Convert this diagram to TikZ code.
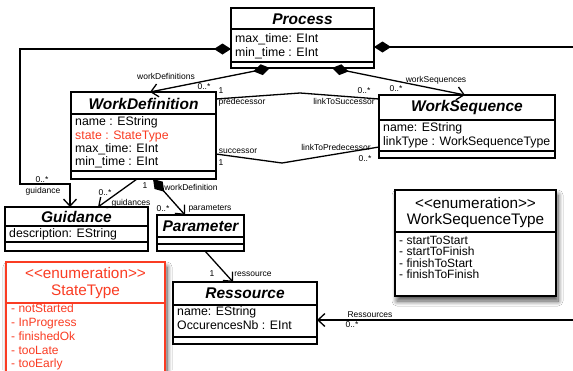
\documentclass[tikz,border=0pt]{standalone}
\usepackage{fontspec}
\setmainfont{Liberation Sans}
\usetikzlibrary{arrows.meta,calc,shadows.blur}
\definecolor{umlred}{RGB}{250,60,35}
\tikzset{
  box/.style={draw=black, line width=1.4pt, fill=white, anchor=north west, inner sep=0pt, outer sep=0pt},
  sepline/.style={line width=1.2pt},
  ttl/.style={font=\fontsize{15.5}{18}\selectfont\bfseries\itshape, inner sep=0pt},
  attr/.style={font=\fontsize{12.3}{14}\selectfont, anchor=west, inner sep=0pt, text height=8.8pt, text depth=2.6pt},
  enumhead/.style={font=\fontsize{15.3}{18}\selectfont, inner sep=0pt},
  enumitem/.style={font=\fontsize{12}{14}\selectfont, anchor=west, inner sep=0pt, text height=8.6pt, text depth=2.5pt},
  lbl/.style={font=\fontsize{8.5}{10}\selectfont, inner sep=0pt},
  conn/.style={line width=1.3pt},
  comp/.style={conn, {Diamond[length=17pt,width=11pt]}-{Straight Barb[length=7pt,width=13pt]}},
  compend/.style={conn, {Diamond[length=17pt,width=11pt]}-},
  assoc/.style={conn, -{Straight Barb[length=7pt,width=13pt]}},
  shad/.style={blur shadow={shadow xshift=2pt, shadow yshift=-5pt, shadow blur steps=10, shadow blur radius=5pt, shadow opacity=70}}
}
\begin{document}
\begin{tikzpicture}[x=1pt,y=-1pt]
\useasboundingbox (0,0) rectangle (573,370);
\fill[white] (0,0) rectangle (573,370);
\clip (0,0) rectangle (573,370);

% ---------- Process
\node[box, minimum width=143pt, minimum height=60pt] (proc) at (231,8) {};
\draw[sepline] ($(proc.north west)+(0,21)$) -- ($(proc.north east)+(0,21)$);
\draw[sepline] ($(proc.north west)+(0,54)$) -- ($(proc.north east)+(0,54)$);
\node[ttl] (procT) at ($(proc.north)+(0,11)$) {Process};
\node[attr] (procA1) at ($(proc.north west)+(4,31)$) {max\_time: EInt};
\node[attr] (procA2) at ($(proc.north west)+(4,45)$) {min\_time : EInt};

% ---------- WorkDefinition
\node[box, minimum width=145pt, minimum height=87pt] (wd) at (71,92) {};
\draw[sepline] ($(wd.north west)+(0,22)$) -- ($(wd.north east)+(0,22)$);
\draw[sepline] ($(wd.north west)+(0,79)$) -- ($(wd.north east)+(0,79)$);
\node[ttl] (wdT) at ($(wd.north)+(0,11.5)$) {WorkDefinition};
\node[attr] (wdA1) at ($(wd.north west)+(4,30)$) {name : EString};
\node[attr, text=umlred] (wdA2) at ($(wd.north west)+(4,44)$) {state : StateType};
\node[attr] (wdA3) at ($(wd.north west)+(4,57.5)$) {max\_time: EInt};
\node[attr] (wdA4) at ($(wd.north west)+(4,70.5)$) {min\_time : EInt};

% ---------- WorkSequence
\node[box, minimum width=176pt, minimum height=63pt] (ws) at (379,95) {};
\draw[sepline] ($(ws.north west)+(0,25)$) -- ($(ws.north east)+(0,25)$);
\draw[sepline] ($(ws.north west)+(0,56)$) -- ($(ws.north east)+(0,56)$);
\node[ttl] (wsT) at ($(ws.north)+(0,12.5)$) {WorkSequence};
\node[attr] (wsA1) at ($(ws.north west)+(4,33)$) {name: EString};
\node[attr] (wsA2) at ($(ws.north west)+(4,47)$) {linkType : WorkSequenceType};

% ---------- Guidance
\node[box, minimum width=143pt, minimum height=44pt] (guid) at (5,207) {};
\draw[sepline] ($(guid.north west)+(0,19)$) -- ($(guid.north east)+(0,19)$);
\draw[sepline] ($(guid.north west)+(0,35)$) -- ($(guid.north east)+(0,35)$);
\node[ttl] (guidT) at ($(guid.north)+(0,9.5)$) {Guidance};
\node[attr] (guidA1) at ($(guid.north west)+(4,27)$) {description: EString};

% ---------- Parameter
\node[box, minimum width=87pt, minimum height=36pt] (param) at (157,215) {};
\draw[sepline] ($(param.north west)+(0,22)$) -- ($(param.north east)+(0,22)$);
\draw[sepline] ($(param.north west)+(0,29)$) -- ($(param.north east)+(0,29)$);
\node[ttl] (paramT) at ($(param.north)+(0,11)$) {Parameter};

% ---------- Ressource
\node[box, minimum width=144pt, minimum height=62pt] (res) at (173,282) {};
\draw[sepline] ($(res.north west)+(0,23)$) -- ($(res.north east)+(0,23)$);
\draw[sepline] ($(res.north west)+(0,55)$) -- ($(res.north east)+(0,55)$);
\node[ttl] (resT) at ($(res.north)+(0,11.5)$) {Ressource};
\node[attr] (resA1) at ($(res.north west)+(4,30)$) {name: EString};
\node[attr] (resA2) at ($(res.north west)+(4,44)$) {OccurencesNb : EInt};

% ---------- WorkSequenceType
\node[box, shad, minimum width=161pt, minimum height=106pt] (wst) at (395,190) {};
\draw[sepline] ($(wst.north west)+(0,42)$) -- ($(wst.north east)+(0,42)$);
\node[enumhead] (wstH1) at ($(wst.north)+(0,13)$) {<\kern0pt<enumeration>\kern0pt>};
\node[enumhead] (wstH2) at ($(wst.north)+(0,30.5)$) {WorkSequenceType};
\node[enumitem] (wstI1) at ($(wst.north west)+(4,51)$) {- startToStart};
\node[enumitem] (wstI2) at ($(wst.north west)+(4,62.5)$) {- startToFinish};
\node[enumitem] (wstI3) at ($(wst.north west)+(4,74)$) {- finishToStart};
\node[enumitem] (wstI4) at ($(wst.north west)+(4,85.5)$) {- finishToFinish};

% ---------- StateType
\node[box, draw=umlred, shad, minimum width=159pt, minimum height=130pt] (st) at (6,262) {};
\draw[sepline, umlred] ($(st.north west)+(0,41)$) -- ($(st.north east)+(0,41)$);
\node[enumhead, text=umlred] (stH1) at ($(st.north)+(0,11)$) {<\kern0pt<enumeration>\kern0pt>};
\node[enumhead, text=umlred] (stH2) at ($(st.north)+(0,30)$) {StateType};
\node[enumitem, text=umlred] (stI1) at ($(st.north west)+(5,47)$) {- notStarted};
\node[enumitem, text=umlred] (stI2) at ($(st.north west)+(5,61)$) {- InProgress};
\node[enumitem, text=umlred] (stI3) at ($(st.north west)+(5,75)$) {- finishedOk};
\node[enumitem, text=umlred] (stI4) at ($(st.north west)+(5,89)$) {- tooLate};
\node[enumitem, text=umlred] (stI5) at ($(st.north west)+(5,102)$) {- tooEarly};

% ---------- free ends at the picture edge
\coordinate (edgeA) at (573,47);
\coordinate (edgeB) at (573,320);

% ---------- connectors
\draw[comp] ($(proc.north west)+(0,41)$) -- ++(-211,0) -- ++(0,135) -- ++(50,0) -- ($(guid.north west)+(65,0)$);
\draw[compend] ($(proc.north east)+(0,39)$) -- (edgeA);
\draw[comp] ($(proc.south west)+(39,0)$) -- ($(wd.north west)+(79,0)$);
\draw[comp] ($(proc.south west)+(101,0)$) -- ($(ws.north west)+(86,0)$);
\draw[conn] ($(wd.north east)+(0,7)$) -- (300,93) -- ($(ws.north west)+(0,4)$);
\draw[conn] ($(wd.north east)+(0,62)$) -- (282,163) -- ($(ws.north west)+(0,52)$);
\draw[comp] ($(wd.south west)+(82,0)$) -- ($(param.north west)+(28,0)$);
\draw[assoc] ($(wd.south west)+(66,0)$) -- ($(guid.north west)+(93,0)$);
\draw[assoc] ($(param.south west)+(48,0)$) -- ($(res.north west)+(60,0)$);
\draw[assoc] (edgeB) -- ($(res.north east)+(0,38)$);

% ---------- labels
\node[lbl] (l1) at (42,180) {0..*};
\node[lbl] (l2) at (43,191) {guidance};
\node[lbl] (l3) at (166,76) {workDefinitions};
\node[lbl] (l4) at (204,87) {0..*};
\node[lbl] (l5) at (436,80) {workSequences};
\node[lbl] (l6) at (396,89) {0..*};
\node[lbl] (l7) at (221,91) {1};
\node[lbl] (l8) at (242,102) {predecessor};
\node[lbl] (l9) at (344,101) {linkToSuccessor};
\node[lbl] (l10) at (364,91) {0..*};
\node[lbl] (l11) at (238,151) {successor};
\node[lbl] (l12) at (221,163) {1};
\node[lbl] (l13) at (336,147) {linkToPredecessor};
\node[lbl] (l14) at (365,159) {0..*};
\node[lbl] (l15) at (145,186) {1};
\node[lbl] (l16) at (191,187) {workDefinition};
\node[lbl] (l17) at (163,209) {0..*};
\node[lbl] (l18) at (210,209) {parameters};
\node[lbl] (l19) at (105,193) {0..*};
\node[lbl] (l20) at (131,203) {guidances};
\node[lbl] (l21) at (212,274) {1};
\node[lbl] (l22) at (253,274) {ressource};
\node[lbl] (l23) at (370,315) {Ressources};
\node[lbl] (l24) at (352,325) {0..*};
\end{tikzpicture}
\end{document}
